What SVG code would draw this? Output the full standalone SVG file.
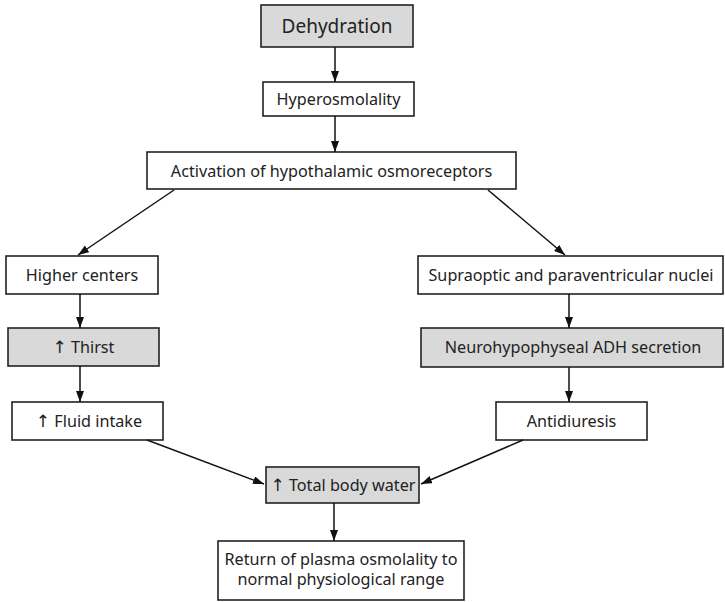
<svg xmlns="http://www.w3.org/2000/svg" width="725" height="602" viewBox="0 0 725 602">
<defs>
<marker id="ah" markerWidth="11" markerHeight="8" refX="11" refY="4" orient="auto" markerUnits="userSpaceOnUse">
<path d="M0,0 L11,4 L0,8 z" fill="#111"/>
</marker>
<style>
.box{fill:#fff;stroke:#222;stroke-width:1.6}
.gray{fill:#d9d9d9}
text{font-family:"Noto Sans","Open Sans",sans-serif;font-size:16.2px;fill:#222;text-anchor:middle}
.big{font-size:19px}
.up{font-family:"DejaVu Sans",sans-serif;font-size:17px}
.con line{stroke:#111;stroke-width:1.5;marker-end:url(#ah)}
</style>
</defs>
<rect width="725" height="602" fill="#fff"/>
<g id="dehydration"><rect class="box gray" x="261" y="5" width="152" height="42"/><text class="big" x="337" y="32.5">Dehydration</text></g>
<g id="hyperosmolality"><rect class="box" x="263" y="82" width="151" height="34"/><text x="338.5" y="104.5">Hyperosmolality</text></g>
<g id="activation"><rect class="box" x="147" y="152" width="369" height="37"/><text x="331.5" y="176.5">Activation of hypothalamic osmoreceptors</text></g>
<g id="higher"><rect class="box" x="6" y="256" width="152" height="38"/><text x="82" y="280.5">Higher centers</text></g>
<g id="thirst"><rect class="box gray" x="8" y="328" width="151" height="38"/><text x="83.5" y="352.5"><tspan class="up">↑</tspan> Thirst</text></g>
<g id="fluid"><rect class="box" x="12" y="402" width="151" height="38"/><text x="89" y="426.5"><tspan class="up">↑</tspan> Fluid intake</text></g>
<g id="supraoptic"><rect class="box" x="418" y="256" width="305" height="38"/><text x="571" y="280.5">Supraoptic and paraventricular nuclei</text></g>
<g id="neuro"><rect class="box gray" x="421" y="328" width="302" height="39"/><text x="573" y="352.5">Neurohypophyseal ADH secretion</text></g>
<g id="antidiuresis"><rect class="box" x="496" y="402" width="151" height="38"/><text x="571.5" y="426.5">Antidiuresis</text></g>
<g id="tbw"><rect class="box gray" x="266" y="467" width="153" height="36"/><text x="343" y="490.5"><tspan class="up">↑</tspan> Total body water</text></g>
<g id="return"><rect class="box" x="218" y="541" width="246" height="59"/><text x="341" y="564.5">Return of plasma osmolality to</text><text x="341" y="584.5">normal physiological range</text></g>
<g class="con" id="connectors">
<line x1="335" y1="47" x2="335" y2="82"/>
<line x1="335" y1="116" x2="335" y2="152"/>
<line x1="174" y1="190" x2="78" y2="255"/>
<line x1="488" y1="190" x2="565" y2="255"/>
<line x1="80" y1="294" x2="80" y2="328"/>
<line x1="80" y1="366" x2="80" y2="402"/>
<line x1="569" y1="294" x2="569" y2="328"/>
<line x1="569" y1="367" x2="569" y2="402"/>
<line x1="147" y1="440" x2="264" y2="484"/>
<line x1="523" y1="440" x2="421" y2="484"/>
<line x1="334" y1="503" x2="334" y2="541"/>
</g>
</svg>
